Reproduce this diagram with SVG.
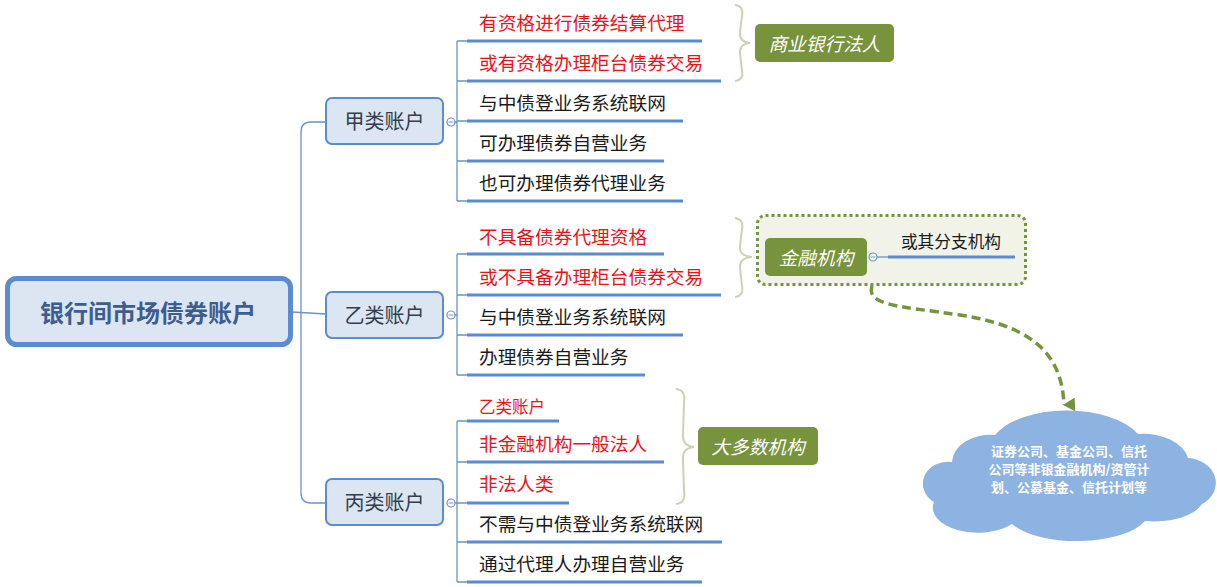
<svg xmlns="http://www.w3.org/2000/svg" width="1217" height="587" viewBox="0 0 1217 587">
<style>
text{font-family:"Noto Sans CJK SC","Microsoft YaHei",sans-serif;dominant-baseline:central}
.conn{fill:none;stroke:#6a93c9;stroke-width:1.3}
.ul{fill:none;stroke:#5b8ccf;stroke-width:3}
.brace{fill:none;stroke:#d0d0b8;stroke-width:2}
.sub rect{fill:#dce6f2;stroke:#5b8ccf;stroke-width:2}
.sub text{font-size:20px;fill:#333d4d;text-anchor:middle}
.red{fill:#e8141c;font-size:18.7px}
.blk{fill:#1a1a1a;font-size:18.7px}
.tag rect{fill:#77933c}
.tag text{fill:#ffffff;font-style:italic;font-size:18.7px;text-anchor:middle}
.coll{fill:#ffffff;stroke:#6a93c9;stroke-width:1.2}
</style>
<defs>
<marker id="arr" markerWidth="14" markerHeight="12" refX="7" refY="11" orient="auto" markerUnits="userSpaceOnUse"><path d="M0,0 L14,0 L7,12 Z" fill="#77933c"/></marker>
</defs>

<g id="jinrong-group">
  <rect x="757.5" y="215.5" width="268" height="69" rx="8" fill="#f1f3e9" stroke="#77933c" stroke-width="3" stroke-dasharray="3 3"/>
</g>

<g id="connectors">
  <path class="conn" d="M292,312 L326,314"/>
  <path class="conn" d="M326,122 L311,122 Q301,122 301,132 L301,493 Q301,503 311,503 L326,503"/>
  <path class="conn" d="M455,122 L457,122 M457,41 L457,201 M457,41 L467,41 M457,81 L467,81 M457,121 L467,121 M457,161 L467,161 M457,201 L467,201"/>
  <path class="conn" d="M455,315 L457,315 M457,254 L457,375 M457,254 L467,254 M457,295 L467,295 M457,335 L467,335 M457,375 L467,375"/>
  <path class="conn" d="M455,503 L457,503 M457,421 L457,582 M457,421 L467,421 M457,462 L467,462 M457,503 L467,503 M457,542 L467,542 M457,582 L467,582"/>
  <path class="conn" d="M877,257 L888,257"/>
  <path class="ul" d="M467,41 H702 M467,81 H721 M467,121 H683 M467,161 H664 M467,201 H683"/>
  <path class="ul" d="M467,254 H664 M467,295 H721 M467,335 H683 M467,375 H645"/>
  <path class="ul" d="M467,421 H559 M467,462 H664 M467,503 H569 M467,542 H722 M467,582 H702"/>
  <path class="ul" d="M888,257 H1015"/>
  <path class="brace" d="M735,5 Q744,6 742,16 L740,32 Q739,42 750,43 Q739,44 740,54 L742,70 Q744,80 735,81"/>
  <path class="brace" d="M735,218 Q744,219 742,229 L740,246 Q739,256 752,257 Q739,258 740,268 L742,286 Q744,296 735,297"/>
  <path class="brace" d="M676,389 Q686,390 684,402 L683,434 Q682,446 694,447 Q682,448 683,460 L684,491 Q686,503 676,504"/>
  <path d="M872,286 C866,306 900,306 960,315 C1040,327 1062,360 1064,405" fill="none" stroke="#77933c" stroke-width="3.5" stroke-dasharray="9 5" marker-end="url(#arr)"/>
</g>

<g id="root">
  <rect x="7.5" y="278.5" width="283" height="66" rx="9" fill="#dce6f2" stroke="#5b8ccf" stroke-width="5"/>
  <text x="148" y="311" font-size="24" font-weight="bold" fill="#3d5d8e" text-anchor="middle">银行间市场债券账户</text>
</g>

<g id="jia" class="sub">
  <rect x="326" y="98" width="117" height="46" rx="6"/>
  <text x="384.5" y="120">甲类账户</text>
  <circle class="coll" cx="451" cy="122" r="4"/>
  <path d="M448.5,122 H453.5" stroke="#6a93c9" stroke-width="1"/>
</g>
<g id="jia-items">
  <text class="red" x="479" y="21.5">有资格进行债券结算代理</text>
  <text class="red" x="479" y="61.5">或有资格办理柜台债券交易</text>
  <text class="blk" x="479" y="101.5">与中债登业务系统联网</text>
  <text class="blk" x="479" y="141.5">可办理债券自营业务</text>
  <text class="blk" x="479" y="181.5">也可办理债券代理业务</text>
</g>
<g id="shangye" class="tag">
  <rect x="755" y="24" width="139" height="38" rx="5"/>
  <text x="824.5" y="42">商业银行法人</text>
</g>

<g id="yi" class="sub">
  <rect x="326" y="292" width="117" height="46" rx="6"/>
  <text x="384.5" y="314">乙类账户</text>
  <circle class="coll" cx="451" cy="315" r="4"/>
  <path d="M448.5,315 H453.5" stroke="#6a93c9" stroke-width="1"/>
</g>
<g id="yi-items">
  <text class="red" x="479" y="235.5">不具备债券代理资格</text>
  <text class="red" x="479" y="275.5">或不具备办理柜台债券交易</text>
  <text class="blk" x="479" y="315.5">与中债登业务系统联网</text>
  <text class="blk" x="479" y="355.5">办理债券自营业务</text>
</g>
<g id="jinrong" class="tag">
  <rect x="765" y="238" width="102" height="38" rx="5"/>
  <text x="816" y="256">金融机构</text>
  <circle class="coll" cx="873" cy="257" r="4"/>
  <path d="M870.5,257 H875.5" stroke="#6a93c9" stroke-width="1"/>
</g>
<g id="fenzhi">
  <text x="951" y="241" font-size="16.7" fill="#1a1a1a" text-anchor="middle">或其分支机构</text>
</g>

<g id="bing" class="sub">
  <rect x="326" y="479" width="117" height="46" rx="6"/>
  <text x="384.5" y="501">丙类账户</text>
  <circle class="coll" cx="451" cy="503" r="4"/>
  <path d="M448.5,503 H453.5" stroke="#6a93c9" stroke-width="1"/>
</g>
<g id="bing-items">
  <text x="479" y="406" font-size="16.5" fill="#e8141c">乙类账户</text>
  <text class="red" x="479" y="442.5">非金融机构一般法人</text>
  <text class="red" x="479" y="482.5">非法人类</text>
  <text class="blk" x="479" y="522.5">不需与中债登业务系统联网</text>
  <text class="blk" x="479" y="562.5">通过代理人办理自营业务</text>
</g>
<g id="duoshu" class="tag">
  <rect x="698" y="427" width="120" height="38" rx="5"/>
  <text x="758" y="445">大多数机构</text>
</g>

<g id="cloud">
  <path d="M952,462 A38 28 0 0 1 995,435 A78 40 0 0 1 1138,434 A45 30 0 0 1 1188,458 A30 25 0 0 1 1202,504 A50 25 0 0 1 1145,521 A72 30 0 0 1 1012,524 A45 25 0 0 1 934,502 A25 22 0 0 1 952,462 Z" fill="#8db3e2"/>
  <g font-size="13" font-weight="bold" fill="#ffffff" text-anchor="middle">
    <text x="1069" y="450">证券公司、基金公司、信托</text>
    <text x="1069" y="468">公司等非银金融机构/资管计</text>
    <text x="1069" y="486">划、公募基金、信托计划等</text>
  </g>
</g>
</svg>
